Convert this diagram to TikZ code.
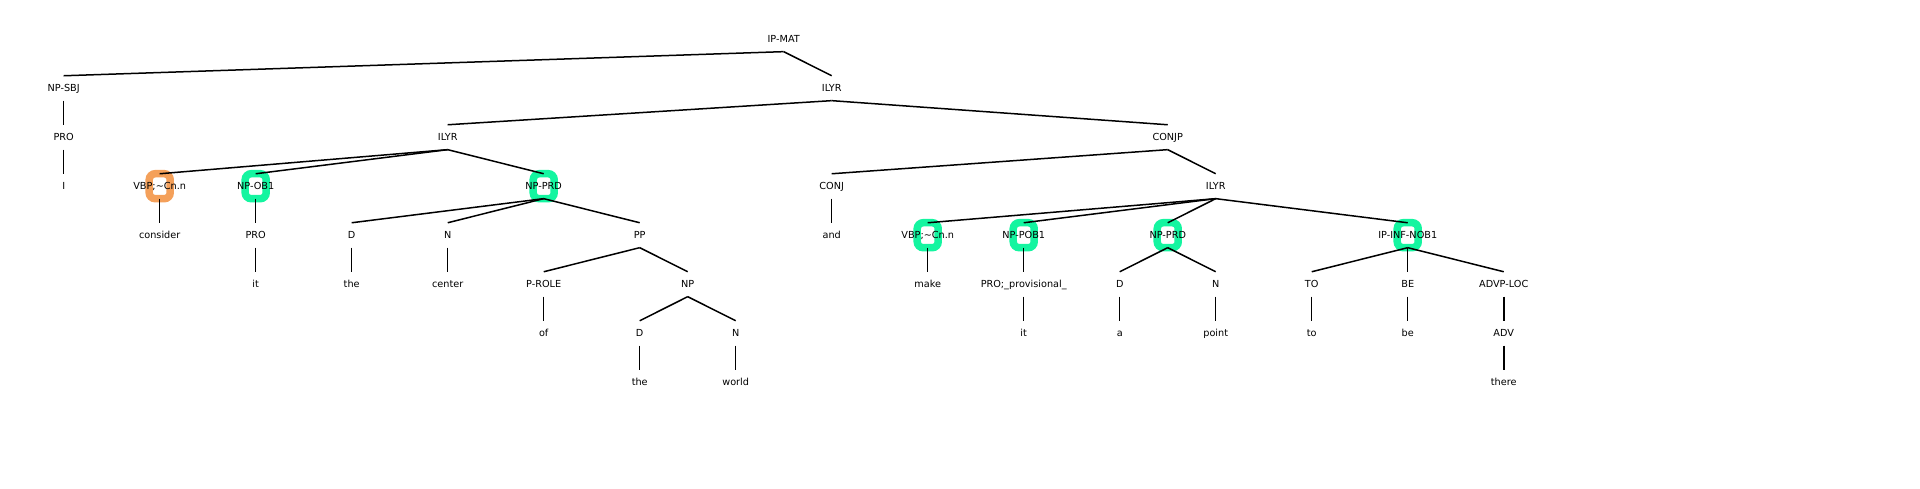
\documentclass[tikz,border=0pt]{standalone}
\usepackage{fontspec}
\setmainfont{DejaVu Sans}
\usepackage{xcolor}
\definecolor{hlorange}{HTML}{F4A05A}
\definecolor{hlgreen}{HTML}{14F5A0}

\begin{document}
\begin{tikzpicture}[x=96pt,y=-49pt,
  lbl/.style={minimum height=24.5pt,inner sep=0pt,text height=7pt,text depth=0pt,font=\fontsize{9.7pt}{11pt}\selectfont},
  ring/.style={draw=#1,line width=7.5pt,rounded corners=6pt,minimum width=21pt,minimum height=25pt,inner sep=0pt},
  edge/.style={line width=1.5pt}]
\useasboundingbox (-0.6635,-0.8) rectangle (19.336,9.159);
% highlights
\node[ring=hlorange] at (1,3) {};
\foreach \p in {(2,3),(5,3),(9,4),(10,4),(11.5,4),(14,4)}
  \node[ring=hlgreen] at \p {};
% level 0-2
\node[lbl] (ipmat) at (7.5,0) {IP-MAT};
\node[lbl] (npsbj) at (0,1) {NP-SBJ};
\node[lbl] (ilyrA) at (8,1) {ILYR};
\node[lbl] (proA) at (0,2) {PRO};
\node[lbl] (ilyrB) at (4,2) {ILYR};
\node[lbl] (conjp) at (11.5,2) {CONJP};
% level 3
\node[lbl] (iA) at (0,3) {I};
\node[lbl] (vbpA) at (1,3) {VBP;\textasciitilde Cn.n};
\node[lbl] (npobA) at (2,3) {NP-OB1};
\node[lbl] (nprdA) at (5,3) {NP-PRD};
\node[lbl] (conj) at (8,3) {CONJ};
\node[lbl] (ilyrC) at (12,3) {ILYR};
% level 4
\node[lbl] (consider) at (1,4) {consider};
\node[lbl] (proB) at (2,4) {PRO};
\node[lbl] (dA) at (3,4) {D};
\node[lbl] (nA) at (4,4) {N};
\node[lbl] (pp) at (6,4) {PP};
\node[lbl] (and) at (8,4) {and};
\node[lbl] (vbpB) at (9,4) {VBP;\textasciitilde Cn.n};
\node[lbl] (npob) at (10,4) {NP-POB1};
\node[lbl] (nprdB) at (11.5,4) {NP-PRD};
\node[lbl] (ipinf) at (14,4) {IP-INF-NOB1};
% level 5
\node[lbl] (itA) at (2,5) {it};
\node[lbl] (theA) at (3,5) {the};
\node[lbl] (center) at (4,5) {center};
\node[lbl] (prole) at (5,5) {P-ROLE};
\node[lbl] (np) at (6.5,5) {NP};
\node[lbl] (make) at (9,5) {make};
\node[lbl] (proprov) at (10,5) {PRO;\_provisional\_};
\node[lbl] (dB) at (11,5) {D};
\node[lbl] (nB) at (12,5) {N};
\node[lbl] (toT) at (13,5) {TO};
\node[lbl] (beT) at (14,5) {BE};
\node[lbl] (advploc) at (15,5) {ADVP-LOC};
% level 6-7
\node[lbl] (of) at (5,6) {of};
\node[lbl] (dC) at (6,6) {D};
\node[lbl] (nC) at (7,6) {N};
\node[lbl] (itB) at (10,6) {it};
\node[lbl] (a) at (11,6) {a};
\node[lbl] (point) at (12,6) {point};
\node[lbl] (toW) at (13,6) {to};
\node[lbl] (beW) at (14,6) {be};
\node[lbl] (adv) at (15,6) {ADV};
\node[lbl] (theB) at (6,7) {the};
\node[lbl] (world) at (7,7) {world};
\node[lbl] (there) at (15,7) {there};
% edges
\foreach \p/\c in {ipmat/npsbj,ipmat/ilyrA,npsbj/proA,proA/iA,ilyrA/ilyrB,ilyrA/conjp,
  ilyrB/vbpA,ilyrB/npobA,ilyrB/nprdA,vbpA/consider,npobA/proB,proB/itA,
  nprdA/dA,nprdA/nA,nprdA/pp,dA/theA,nA/center,pp/prole,pp/np,prole/of,
  np/dC,np/nC,dC/theB,nC/world,conjp/conj,conjp/ilyrC,conj/and,
  ilyrC/vbpB,ilyrC/npob,ilyrC/nprdB,ilyrC/ipinf,vbpB/make,npob/proprov,proprov/itB,
  nprdB/dB,nprdB/nB,dB/a,nB/point,ipinf/toT,ipinf/beT,ipinf/advploc,
  toT/toW,beT/beW,advploc/adv,adv/there}
  \draw[edge] (\p.south) -- (\c.north);
\end{tikzpicture}
\end{document}
